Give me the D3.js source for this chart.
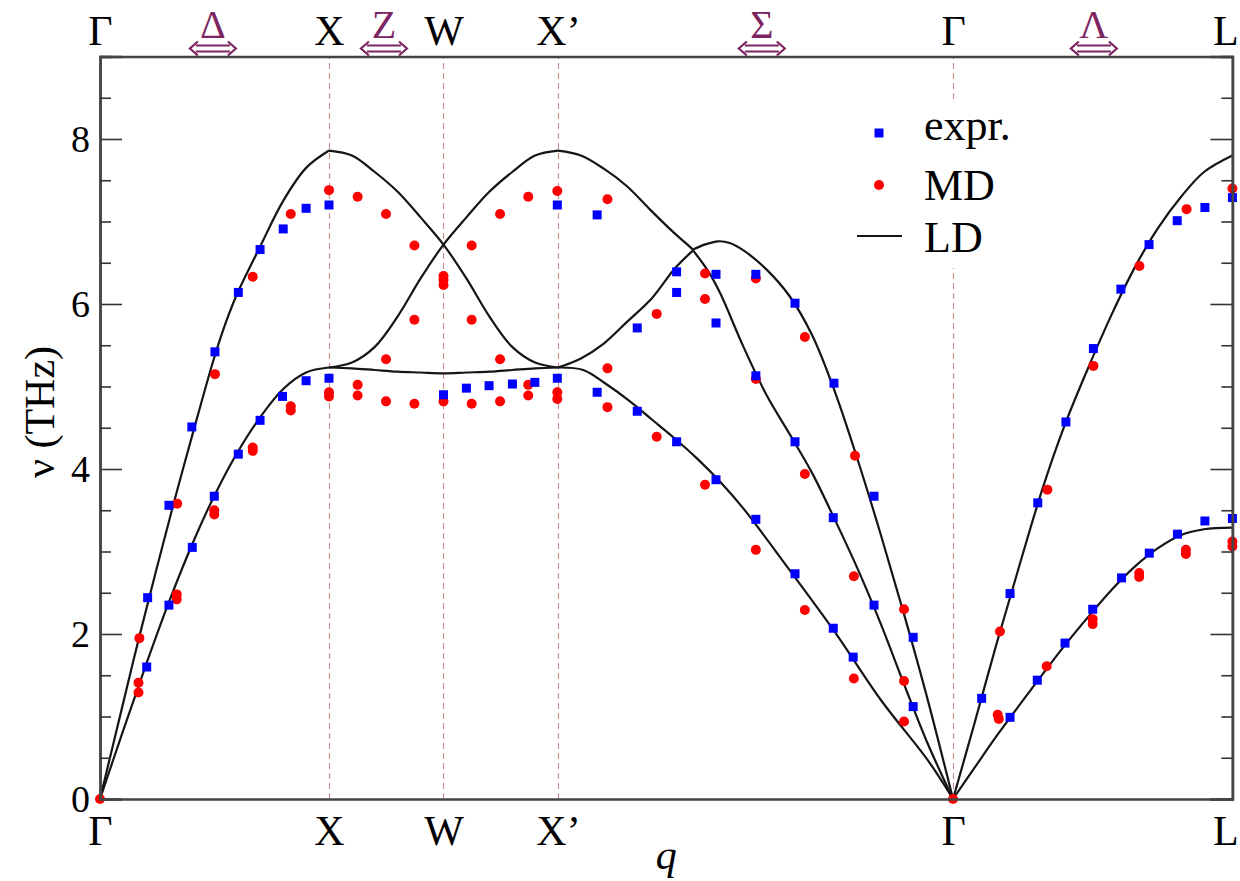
<!DOCTYPE html>
<html><head><meta charset="utf-8">
<script src="https://cdn.jsdelivr.net/npm/d3@7"></script>
<style>body{margin:0;background:#fff} svg{display:block}</style>
</head><body>
<svg id="chart" width="1240" height="881"></svg>
<script>
// ---------- data ----------
const pointLabels = ["Γ","X","W","X’","Γ","L"];
const pointQ      = [0, 1, 1.5, 2, 3.725, 4.945];
const dirLabels   = ["Δ","Z","Σ","Λ"];
const dirQ        = [0.493, 1.24, 2.89, 4.34];
const yMajorTicks = [0, 2, 4, 6, 8];
const yMinorTicks = [0.5,1,1.5,2.5,3,3.5,4.5,5,5.5,6.5,7,7.5,8.5];
const legendLabels = ["expr.", "MD", "LD"];

// LD (lattice dynamics) branches: [q, nu]
const ldGX_upper = [[0,0],[0.1,1.15],[0.17,1.95],[0.25,2.82],[0.333,3.7],[0.42,4.58],[0.5,5.36],[0.55,5.78],[0.6,6.13],[0.7,6.7],[0.8,7.25],[0.9,7.65],[1.0,7.86]];
const ldGX_lower = [[0,0],[0.1,0.82],[0.2,1.62],[0.3,2.38],[0.4,3.07],[0.5,3.68],[0.6,4.2],[0.7,4.63],[0.8,4.97],[0.9,5.17],[1.0,5.23]];
const ldXW_down  = [[1.0,7.86],[1.1,7.8],[1.2,7.6],[1.3,7.36],[1.4,7.05],[1.5,6.72],[1.6,6.31],[1.7,5.85],[1.8,5.48],[1.9,5.29],[2.0,5.23]];
const ldXW_up    = [[1.0,5.23],[1.1,5.29],[1.2,5.48],[1.3,5.85],[1.4,6.31],[1.5,6.72],[1.6,7.05],[1.7,7.36],[1.8,7.6],[1.9,7.8],[2.0,7.86]];
const ldXW_flat  = [[1.0,5.23],[1.1,5.22],[1.2,5.2],[1.3,5.18],[1.4,5.17],[1.5,5.16],[1.6,5.17],[1.7,5.18],[1.8,5.2],[1.9,5.22],[2.0,5.23]];
const ldS_top_a  = [[2.0,7.86],[2.1,7.8],[2.2,7.64],[2.3,7.43],[2.4,7.15],[2.5,6.88],[2.59,6.66]];
const ldS_top_b  = [[2.59,6.66],[2.64,6.72],[2.7,6.76],[2.75,6.74],[2.81,6.65],[2.91,6.42],[3.01,6.1],[3.11,5.62],[3.21,4.93],[3.31,4.1],[3.41,3.2],[3.51,2.25],[3.61,1.25],[3.725,0]];
const ldS_mid_a  = [[2.0,5.23],[2.1,5.34],[2.2,5.52],[2.3,5.78],[2.41,6.07],[2.51,6.43],[2.59,6.65]];
const ldS_mid_b  = [[2.59,6.65],[2.66,6.38],[2.71,6.12],[2.81,5.48],[2.91,4.9],[3.01,4.43],[3.11,3.95],[3.21,3.38],[3.31,2.78],[3.41,2.12],[3.51,1.4],[3.61,0.7],[3.725,0]];
const ldS_low    = [[2.0,5.23],[2.11,5.2],[2.21,5.03],[2.31,4.83],[2.41,4.6],[2.51,4.37],[2.61,4.12],[2.71,3.84],[2.81,3.52],[3.01,2.78],[3.21,2.02],[3.41,1.2],[3.62,0.45],[3.725,0]];
const ldGL_upper = [[3.725,0],[3.817,0.9],[3.917,1.9],[4.018,2.86],[4.118,3.78],[4.218,4.57],[4.319,5.25],[4.419,5.88],[4.52,6.45],[4.62,6.92],[4.721,7.3],[4.821,7.6],[4.945,7.8]];
const ldGL_lower = [[3.725,0],[3.817,0.37],[3.917,0.77],[4.018,1.15],[4.118,1.52],[4.218,1.88],[4.319,2.22],[4.419,2.54],[4.52,2.82],[4.62,3.04],[4.721,3.2],[4.821,3.27],[4.945,3.29]];
const ldBranches = [ldGX_upper, ldGX_lower, ldXW_down, ldXW_up, ldXW_flat, ldS_top_a, ldS_top_b, ldS_mid_a, ldS_mid_b, ldS_low, ldGL_upper, ldGL_lower];

// experiment (blue squares): [q, nu]
const exprPoints = [
 [0.204,1.60],[0.208,2.44],[0.301,3.56],[0.301,2.35],[0.403,3.05],[0.401,4.51],[0.499,3.67],[0.502,5.42],
 [0.604,4.18],[0.604,6.14],[0.699,6.66],[0.699,4.59],[0.8,6.91],[0.797,4.88],[0.9,7.16],[0.9,5.07],[1.0,7.20],[1.0,5.10],
 [1.5,4.90],[1.6,4.98],[1.699,5.01],[1.801,5.03],[1.899,5.05],[1.997,5.10],[1.997,7.20],
 [2.171,7.08],[2.171,4.93],[2.346,5.71],[2.346,4.70],[2.518,6.39],[2.518,6.14],[2.518,4.33],
 [2.69,6.36],[2.69,5.77],[2.69,3.87],[2.864,6.36],[2.864,5.13],[2.864,3.39],
 [3.035,6.01],[3.035,4.33],[3.035,2.73],[3.205,5.04],[3.202,3.41],[3.202,2.07],[3.289,1.72],
 [3.38,3.67],[3.38,2.35],[3.551,1.96],[3.551,1.12],
 [3.85,1.22],[3.974,2.49],[4.095,3.59],[4.218,4.57],[4.338,5.46],[4.458,6.18],[4.581,6.72],[4.704,7.01],[4.825,7.17],[4.945,7.29],
 [3.974,0.99],[4.093,1.44],[4.214,1.89],[4.335,2.30],[4.461,2.68],[4.582,2.98],[4.705,3.21],[4.825,3.37],[4.945,3.40]
];

// molecular dynamics (red circles): [q, nu]
const mdPoints = [
 [0,0],[0.172,1.95],[0.168,1.41],[0.168,1.29],[0.337,3.58],[0.335,2.48],[0.335,2.42],[0.499,3.50],[0.499,3.45],[0.502,5.15],
 [0.667,6.33],[0.667,4.26],[0.667,4.22],[0.833,7.09],[0.833,4.76],[0.833,4.71],[1.0,7.38],[1.0,4.93],[1.0,4.88],
 [1.125,7.30],[1.125,5.02],[1.125,4.89],[1.249,7.09],[1.249,5.33],[1.249,4.82],[1.373,6.71],[1.373,5.81],[1.373,4.79],
 [1.5,6.34],[1.5,6.29],[1.5,6.23],[1.5,4.82],[1.623,6.71],[1.623,5.81],[1.623,4.79],[1.747,7.09],[1.747,5.33],[1.747,4.82],
 [1.87,7.30],[1.87,5.02],[1.87,4.89],[1.997,7.37],[1.997,4.93],[1.997,4.85],
 [2.216,7.27],[2.216,5.22],[2.216,4.75],[2.431,5.88],[2.431,4.39],[2.642,6.37],[2.642,6.06],[2.642,3.81],
 [2.864,6.31],[2.864,5.09],[2.864,3.02],[3.078,5.60],[3.078,3.94],[3.078,2.29],[3.297,4.16],[3.292,2.70],[3.292,1.46],
 [3.511,2.30],[3.511,1.43],[3.511,0.94],[3.725,0],
 [3.93,2.03],[4.137,3.75],[4.338,5.25],[4.539,6.46],[4.745,7.15],[4.945,7.40],
 [3.92,1.02],[3.925,0.97],[4.134,1.61],[4.335,2.18],[4.335,2.12],[4.538,2.74],[4.538,2.69],[4.742,3.02],[4.742,2.97],[4.945,3.12],[4.945,3.06]
];

// ---------- drawing ----------
const svg = d3.select("#chart");
const serif = "'Liberation Serif','Times New Roman',serif";
const mLeft = 100, mRight = 1232.4, mTop = 56.5, mBottom = 799;
const x = d3.scaleLinear().domain([0, 4.945]).range([mLeft, mRight]);
const y = d3.scaleLinear().domain([0, 9]).range([mBottom, mTop]);
const purple = "#7d2563";

// dashed vertical lines at interior symmetry points
svg.append("g").selectAll("line").data(pointQ.slice(1, 5)).join("line")
  .attr("x1", d => Math.round(x(d)) + 0.5).attr("x2", d => Math.round(x(d)) + 0.5)
  .attr("y1", y(0)).attr("y2", y(9))
  .attr("stroke", "#d08a8a").attr("stroke-width", 1.1).attr("stroke-dasharray", "6,4");

// legend background (covers dashed line)
const legendBox = {x0: 845, x1: 1030, y0: 99, y1: 268};
svg.append("rect").attr("x", legendBox.x0).attr("y", legendBox.y0)
  .attr("width", legendBox.x1 - legendBox.x0).attr("height", legendBox.y1 - legendBox.y0)
  .attr("fill", "#fff");

// LD lines
const line = d3.line().x(d => x(d[0])).y(d => y(d[1])).curve(d3.curveCatmullRom.alpha(0.5));
svg.append("g").selectAll("path").data(ldBranches).join("path")
  .attr("d", line).attr("fill", "none").attr("stroke", "#151515").attr("stroke-width", 2.2);

// MD points
svg.append("g").selectAll("circle").data(mdPoints).join("circle")
  .attr("cx", d => x(d[0])).attr("cy", d => y(d[1])).attr("r", 5).attr("fill", "#ff0000");

// experiment points
const sq = 9;
svg.append("g").selectAll("rect").data(exprPoints).join("rect")
  .attr("x", d => x(d[0]) - sq / 2).attr("y", d => y(d[1]) - sq / 2)
  .attr("width", sq).attr("height", sq).attr("fill", "#0000ff");

// axes: left and right with inward ticks
const gL = svg.append("g").attr("transform", `translate(${mLeft},0)`);
gL.call(d3.axisLeft(y).tickValues(yMajorTicks).tickSize(-22).tickFormat(d3.format("d")));
const gLm = svg.append("g").attr("transform", `translate(${mLeft},0)`);
gLm.call(d3.axisLeft(y).tickValues(yMinorTicks).tickSize(-11).tickFormat(""));
const gR = svg.append("g").attr("transform", `translate(${mRight},0)`);
gR.call(d3.axisRight(y).tickValues(yMajorTicks).tickSize(-22).tickFormat(""));
const gRm = svg.append("g").attr("transform", `translate(${mRight},0)`);
gRm.call(d3.axisRight(y).tickValues(yMinorTicks).tickSize(-11).tickFormat(""));
// bottom & top symmetry labels
const gB = svg.append("g").attr("transform", `translate(0,${mBottom})`);
gB.call(d3.axisBottom(x).tickValues(pointQ).tickSize(0).tickPadding(16).tickFormat((d, i) => pointLabels[i]));
const gT = svg.append("g").attr("transform", `translate(0,${mTop})`);
gT.call(d3.axisTop(x).tickValues(pointQ).tickSize(0).tickPadding(12).tickFormat((d, i) => pointLabels[i]));

[gL, gLm, gR, gRm, gB, gT].forEach(g => {
  g.selectAll(".domain").attr("stroke", "#444").attr("stroke-width", 2.5);
  g.selectAll(".tick line").attr("stroke", "#333").attr("stroke-width", 1.6);
  g.selectAll("text").attr("font-family", serif).attr("fill", "#000");
});
gL.selectAll(".tick text").attr("font-size", 38).attr("text-anchor", "end").attr("x", -10);
gB.selectAll("text").attr("font-size", 42);
gT.selectAll("text").attr("font-size", 42);
// keep the last label (L) inside the picture
[gB, gT].forEach(g => g.selectAll(".tick text").filter((d, i) => i === pointLabels.length - 1).attr("dx", -7));

// direction labels with double arrows
const gDir = svg.append("g");
dirQ.forEach((q, i) => {
  const cx = x(q);
  gDir.append("text").attr("x", cx).attr("y", 38).attr("text-anchor", "middle")
    .attr("font-family", serif).attr("font-size", 40).attr("fill", purple).text(dirLabels[i]);
  const w = 23, yc = 48.5;
  gDir.append("path")
    .attr("d", `M${cx - w + 6},${yc - 3}H${cx + w - 6}M${cx - w + 6},${yc + 3}H${cx + w - 6}` +
               `M${cx - w + 8},${yc - 7}L${cx - w},${yc}L${cx - w + 8},${yc + 7}` +
               `M${cx + w - 8},${yc - 7}L${cx + w},${yc}L${cx + w - 8},${yc + 7}`)
    .attr("fill", "none").attr("stroke", purple).attr("stroke-width", 2.2);
});

// axis titles
svg.append("text").attr("transform", "translate(54,412) rotate(-90)").attr("text-anchor", "middle")
  .attr("font-family", serif).attr("font-size", 42).text("ν (THz)");
svg.append("text").attr("x", (mLeft + mRight) / 2).attr("y", 869).attr("text-anchor", "middle")
  .attr("font-family", serif).attr("font-size", 42).attr("font-style", "italic").text("q");

// legend
const legendY = [133, 185, 236];
const lg = svg.append("g");
lg.append("rect").attr("x", 879 - sq / 2).attr("y", legendY[0] - sq / 2).attr("width", sq).attr("height", sq).attr("fill", "#0000ff");
lg.append("circle").attr("cx", 879).attr("cy", legendY[1]).attr("r", 5).attr("fill", "#ff0000");
lg.append("line").attr("x1", 857).attr("x2", 902).attr("y1", legendY[2]).attr("y2", legendY[2]).attr("stroke", "#151515").attr("stroke-width", 2.2);
lg.selectAll("text").data(legendLabels).join("text")
  .attr("x", 924).attr("y", (d, i) => [140, 200, 252][i])
  .attr("font-family", serif).attr("font-size", 44).text(d => d);
</script>
</body></html>
